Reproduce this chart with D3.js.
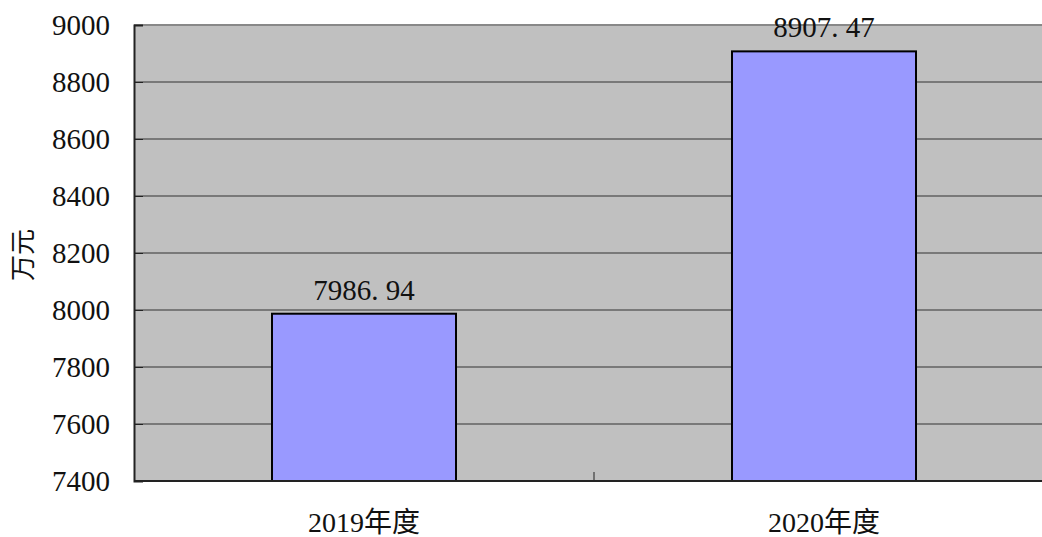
<!DOCTYPE html>
<html>
<head>
<meta charset="utf-8">
<script src="https://cdn.jsdelivr.net/npm/d3@7"></script>
<style>
  body { margin: 0; background: #fff; }
  svg text { font-family: "Liberation Serif", "Times New Roman", "DejaVu Serif", serif; fill: #111; }
  svg text.cjk { font-family: "Liberation Serif", "Times New Roman", "Noto Sans CJK SC", serif; }
</style>
</head>
<body>
<svg id="chart" width="1042" height="537"></svg>
<script>
// chart data
var categories = ["2019年度", "2020年度"];
var values = [7986.94, 8907.47];
var valueLabels = ["7986. 94", "8907. 47"];
var yTicks = [7400, 7600, 7800, 8000, 8200, 8400, 8600, 8800, 9000];
var yTitle = "万元";

var svg = d3.select("#chart");
var margin = {left: 134, top: 25, right: -12, bottom: 56};
var width = 1042 - margin.left - margin.right;
var height = 537 - margin.top - margin.bottom;

var x = d3.scaleBand()
    .domain(categories)
    .range([0, width])
    .paddingInner(0.6)
    .paddingOuter(0.3);

var y = d3.scaleLinear()
    .domain([7400, 9000])
    .range([height, 0]);

var g = svg.append("g")
    .attr("transform", "translate(" + margin.left + "," + margin.top + ")");

// plot background
g.append("rect")
    .attr("x", 0).attr("y", 0)
    .attr("width", width).attr("height", height)
    .attr("fill", "#c0c0c0");

// gridlines
g.selectAll(".grid")
    .data(yTicks.filter(function(d) { return d > 7400; }))
    .join("line")
    .attr("class", "grid")
    .attr("x1", 0).attr("x2", width)
    .attr("y1", function(d) { return y(d); })
    .attr("y2", function(d) { return y(d); })
    .attr("stroke", function(d) { return d === 9000 ? "#888" : "#333"; })
    .attr("stroke-width", function(d) { return d === 9000 ? 2 : 1; });

// bars
g.selectAll(".bar")
    .data(values)
    .join("rect")
    .attr("class", "bar")
    .attr("x", function(d, i) { return x(categories[i]); })
    .attr("y", function(d) { return y(d); })
    .attr("width", x.bandwidth())
    .attr("height", function(d) { return height - y(d); })
    .attr("fill", "#9999ff")
    .attr("stroke", "#000")
    .attr("stroke-width", 2);

// value labels
g.selectAll(".vlabel")
    .data(values)
    .join("text")
    .attr("class", "vlabel")
    .attr("x", function(d, i) { return x(categories[i]) + x.bandwidth() / 2; })
    .attr("y", function(d) { return y(d) - 14; })
    .attr("text-anchor", "middle")
    .style("font-size", "29px")
    .text(function(d, i) { return valueLabels[i]; });

// y axis
var yAxis = d3.axisLeft(y).tickValues(yTicks).tickFormat(d3.format("d")).tickSize(-9).tickPadding(24);
var ya = g.append("g").call(yAxis).attr("font-family", null).attr("font-size", null);
ya.select(".domain").attr("stroke", "#222").attr("stroke-width", 2);
ya.selectAll(".tick line").attr("stroke", "#222");
ya.selectAll(".tick text")
    .style("font-size", "29px")
    .attr("dy", "0.34em")
    .attr("fill", "#111");

// x axis
var xa = g.append("g").attr("transform", "translate(0," + height + ")");
xa.append("line")
    .attr("x1", 0).attr("x2", width)
    .attr("stroke", "#222").attr("stroke-width", 2);
xa.append("line")
    .attr("x1", width / 2).attr("x2", width / 2)
    .attr("y1", 0).attr("y2", -9)
    .attr("stroke", "#222");
xa.selectAll(".xlabel")
    .data(categories)
    .join("text")
    .attr("class", "xlabel cjk")
    .attr("x", function(d) { return x(d) + x.bandwidth() / 2; })
    .attr("y", 51)
    .attr("text-anchor", "middle")
    .style("font-size", "28px")
    .text(function(d) { return d; });

// y title
svg.append("text")
    .attr("transform", "translate(32,255) rotate(-90)")
    .attr("text-anchor", "middle")
    .style("font-family", "'Noto Sans CJK SC', sans-serif")
    .style("font-size", "26px")
    .text(yTitle);
</script>
</body>
</html>
